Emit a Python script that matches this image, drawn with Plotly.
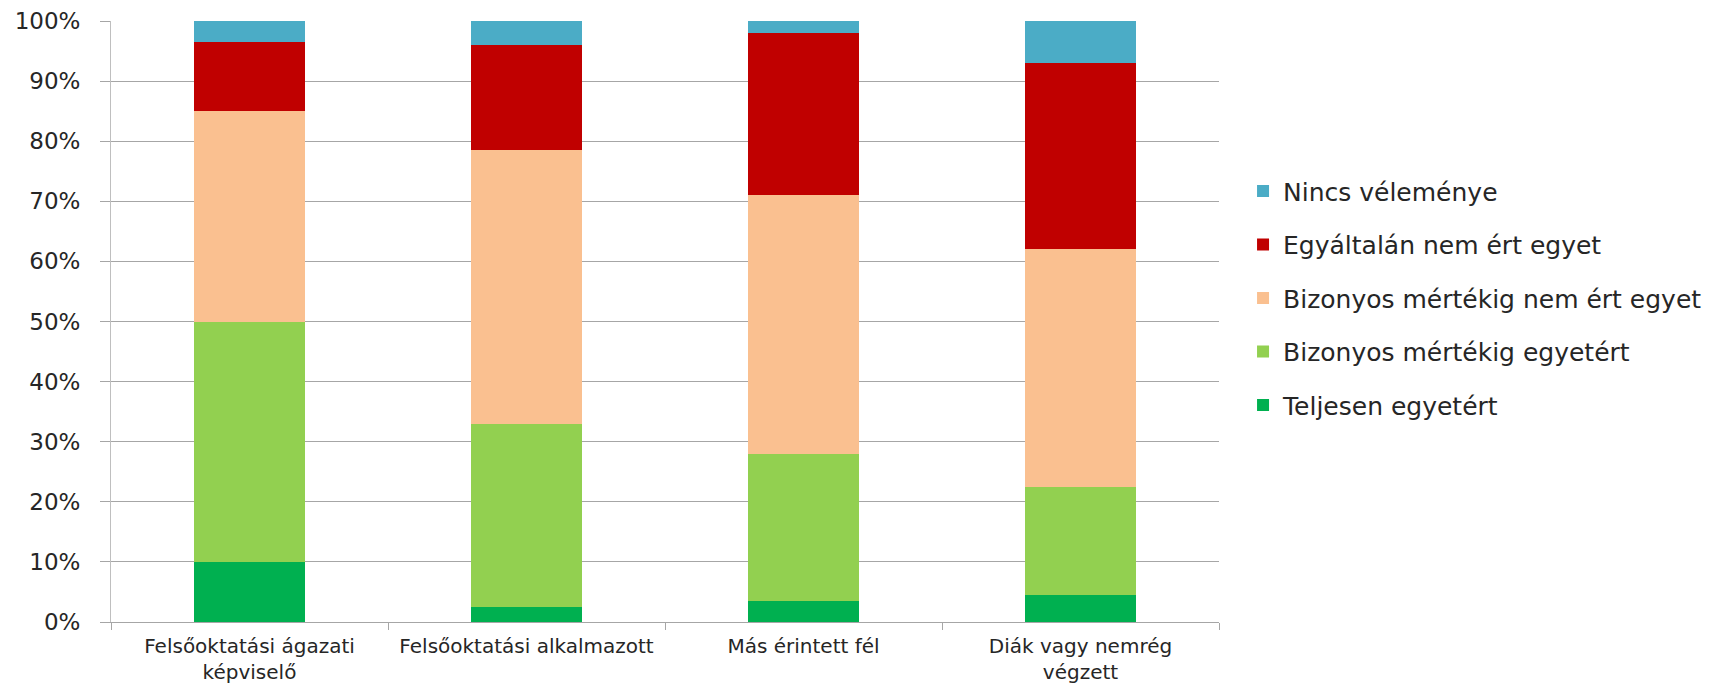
import plotly.graph_objects as go

categories = ["Felsőoktatási ágazati<br>képviselő", "Felsőoktatási alkalmazott",
              "Más érintett fél", "Diák vagy nemrég<br>végzett"]

teljesen_egyetert = [10, 2.5, 3.5, 4.5]
bizonyos_egyetert = [40, 30.5, 24.5, 18]
bizonyos_nem_ert = [35, 45.5, 43, 39.5]
egyaltalan_nem = [11.5, 17.5, 27, 31]
nincs_velemenye = [3.5, 4, 2, 7]

series = [
    ("Teljesen egyetért", teljesen_egyetert, "#00B050"),
    ("Bizonyos mértékig egyetért", bizonyos_egyetert, "#92D050"),
    ("Bizonyos mértékig nem ért egyet", bizonyos_nem_ert, "#FAC090"),
    ("Egyáltalán nem ért egyet", egyaltalan_nem, "#C00000"),
    ("Nincs véleménye", nincs_velemenye, "#4BACC6"),
]

fig = go.Figure()
n = len(series)
for i, (name, vals, col) in enumerate(series):
    fig.add_trace(go.Bar(x=categories, y=vals, name=name, marker_color=col,
                         marker_line_width=0, legendgroup=name,
                         legendrank=1000 + (n - i)))

font_family = "DejaVu Sans"
# page body has an 8px default margin, so the figure is made 8px smaller
fig.update_layout(
    barmode="stack",
    bargap=0.6,
    width=1709, height=677,
    margin=dict(l=103, r=498, t=13, b=63, autoexpand=False),
    paper_bgcolor="white", plot_bgcolor="white",
    font=dict(family=font_family, color="#262626"),
    showlegend=True,
    legend=dict(x=1.0217, y=0.755, xanchor="left", yanchor="top",
                traceorder="grouped", tracegroupgap=18,
                font=dict(size=25, family=font_family, color="#262626"),
                bgcolor="rgba(0,0,0,0)"),
)
fig.update_yaxes(range=[0, 100], dtick=10, ticksuffix="%", automargin=False,
                 showgrid=True, gridcolor="#A6A6A6", gridwidth=1,
                 ticks="outside", ticklen=10, tickcolor="#A6A6A6",
                 showline=True, linecolor="#BFBFBF", linewidth=1, zeroline=False,
                 tickfont=dict(size=23, family=font_family, color="#262626"),
                 ticklabelstandoff=15)
fig.update_xaxes(showline=True, linecolor="#A6A6A6", linewidth=1, automargin=False,
                 ticks="outside", tickson="boundaries", ticklen=7, tickcolor="#A6A6A6",
                 tickfont=dict(size=20, family=font_family, color="#262626"),
                 ticklabelstandoff=6)

fig.write_html("out.html")
